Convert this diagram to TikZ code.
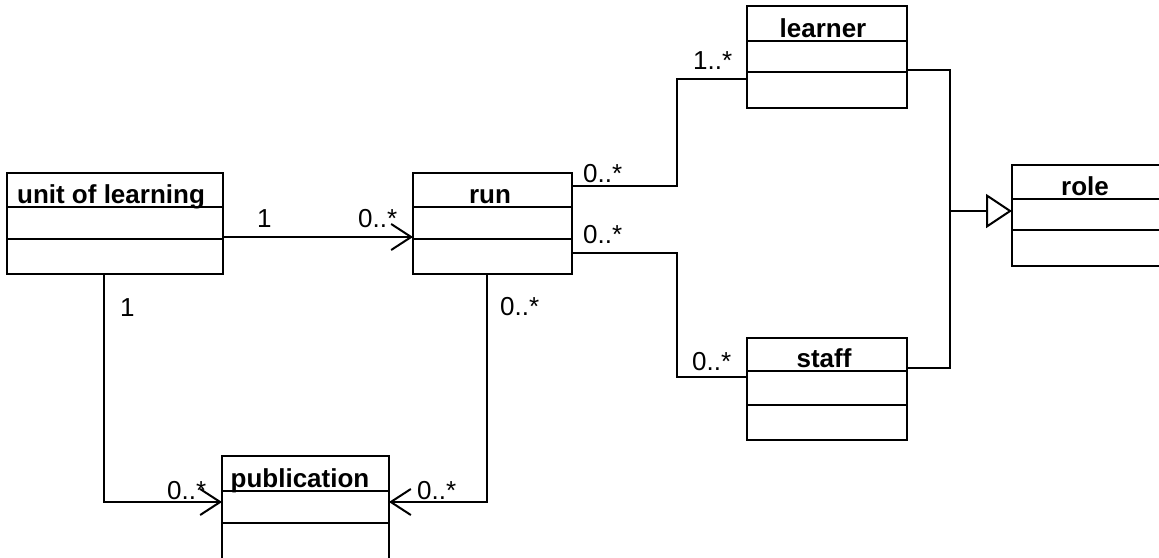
\documentclass[tikz,border=0pt]{standalone}
\usepackage{fontspec}
\setmainfont{Liberation Sans}
\usetikzlibrary{arrows.meta,calc}

% one UML class: name, top-left x, top-left y, width, height, header height, middle height, title, title x
\newcommand{\umlclass}[9]{%
  \node[clsbox, minimum width=#4pt, minimum height=#5pt, anchor=north west] (#1) at (#2,#3) {};
  \draw[wire] ($(#1.north west)+(0,#6)$) -- ($(#1.north east)+(0,#6)$);
  \draw[wire] ($(#1.north west)+(0,#6+#7)$) -- ($(#1.north east)+(0,#6+#7)$);
  \node[title, anchor=base] (#1-name) at ($(#9,0)+(0,#3+#6-4)$) {#8};
}

\tikzset{
  wire/.style={line width=2pt, black},
  clsbox/.style={draw, line width=2pt, rectangle, inner sep=0pt, outer sep=0pt},
  title/.style={inner sep=0pt, font=\fontsize{26}{30}\selectfont\bfseries},
  mult/.style={inner sep=0pt, anchor=base west, font=\fontsize{26}{30}\selectfont},
  assoc/.style={wire, -{Straight Barb[length=20pt, width=26pt, line width=2pt]}},
  gen/.style={wire, -{Triangle[open, length=26pt, width=34pt, line width=2pt]}},
}

\begin{document}
\begin{tikzpicture}[x=1pt, y=-1pt]
  \useasboundingbox[fill=white] (0,0) rectangle (1159,557);

  % classes
  \umlclass{uol}{7}{173}{216}{101}{34}{32}{unit of learning}{111}
  \umlclass{run}{413}{173}{159}{101}{34}{32}{run}{490}
  \umlclass{learner}{747}{6}{160}{102}{35}{31}{learner}{823}
  \umlclass{staff}{747}{338}{160}{102}{33}{34}{staff}{824}
  \umlclass{role}{1012}{165}{160}{101}{34}{31}{role}{1085}
  \umlclass{pub}{222}{456}{167}{120}{35}{32}{publication}{300}

  % associations
  \draw[assoc] ($(uol.north east)+(0,64)$) -- ($(run.north west)+(0,64)$);
  \draw[assoc] ($(uol.south west)+(97,0)$) |- ($(pub.north west)+(0,46)$);
  \draw[assoc] ($(run.south west)+(74,0)$) |- ($(pub.north east)+(0,46)$);
  \draw[wire] ($(run.north east)+(0,13)$) -- ++(105,0) |- ($(learner.north west)+(0,73)$);
  \draw[wire] ($(run.north east)+(0,80)$) -- ++(105,0) |- ($(staff.north west)+(0,39)$);

  % generalisation of learner and staff into role
  \coordinate (join) at (950,211);
  \draw[wire] ($(learner.north east)+(0,64)$) -| (join);
  \draw[wire] ($(staff.north east)+(0,30)$) -| (join);
  \draw[gen] (join) -- ($(role.north west)+(0,46)$);

  % multiplicities
  \node[mult] (m1) at (257,227) {1};
  \node[mult] (m2) at (358,227) {0..*};
  \node[mult] (m3) at (120,316) {1};
  \node[mult] (m4) at (167,499) {0..*};
  \node[mult] (m5) at (417,499) {0..*};
  \node[mult] (m6) at (500,315) {0..*};
  \node[mult] (m7) at (583,182) {0..*};
  \node[mult] (m8) at (583,243) {0..*};
  \node[mult] (m9) at (693,69) {1..*};
  \node[mult] (m10) at (692,370) {0..*};
\end{tikzpicture}
\end{document}
